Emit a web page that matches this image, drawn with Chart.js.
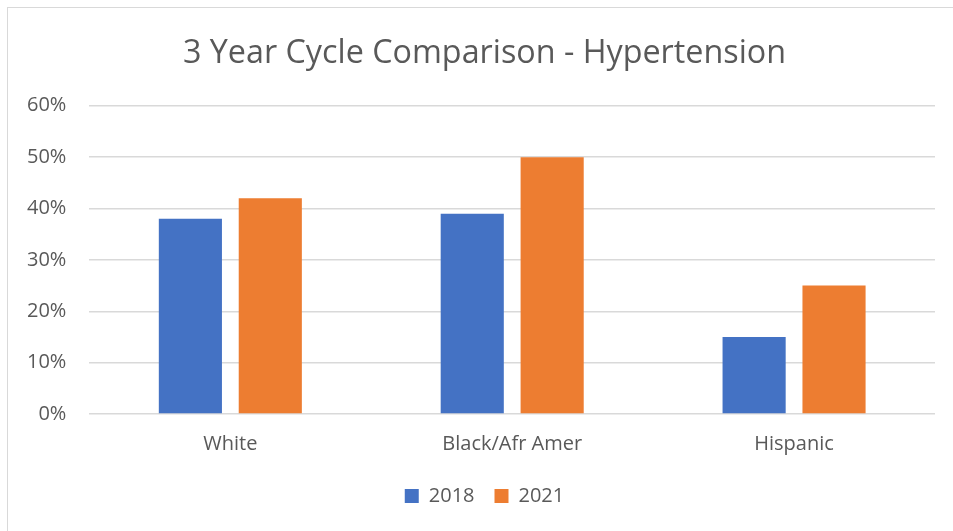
<!DOCTYPE html>
<html>
<head>
<meta charset="utf-8">
<script src="https://cdn.jsdelivr.net/npm/chart.js@4"></script>
<style>
  html, body { margin:0; padding:0; background:#fff; overflow:hidden; }
  #wrap { position:absolute; left:0; top:0; width:975px; height:531px; }
  #frame { position:absolute; left:7px; top:7px; width:1000px; height:1000px;
           border:1px solid #d9d9d9; pointer-events:none; }
</style>
</head>
<body>
<div id="wrap"><canvas id="myChart" width="975" height="531"></canvas></div>
<div id="frame"></div>
<script>
// chart data
var categories = ["White", "Black/Afr Amer", "Hispanic"];
var values2018 = [38, 39, 15];
var values2021 = [42, 50, 25];
var seriesNames = ["2018", "2021"];

var textColor = "#595959";
var fontFamily = "'Open Sans', 'Noto Sans', sans-serif";

var ctx = document.getElementById("myChart").getContext("2d");
var myChart = new Chart(ctx, {
  type: "bar",
  data: {
    labels: categories,
    datasets: [
      { label: seriesNames[0], data: values2018, backgroundColor: "#4472C4" },
      { label: seriesNames[1], data: values2021, backgroundColor: "#ED7D31" }
    ]
  },
  options: {
    responsive: false,
    animation: false,
    categoryPercentage: 0.567,
    barPercentage: 0.79,
    layout: { padding: { left: 4, right: 10, top: 16, bottom: 15 } },
    plugins: {
      title: {
        display: true,
        text: "3 Year Cycle Comparison - Hypertension",
        color: textColor,
        font: { family: fontFamily, size: 32.3, weight: "normal" },
        padding: { top: 18, bottom: 33 }
      },
      legend: {
        position: "bottom",
        labels: {
          color: textColor,
          font: { family: fontFamily, size: 20 },
          boxWidth: 14,
          boxHeight: 14,
          padding: 20
        }
      },
      tooltip: { enabled: false }
    },
    scales: {
      x: {
        grid: { display: false },
        border: { display: false },
        ticks: { color: textColor, font: { family: fontFamily, size: 20 }, padding: 10 }
      },
      y: {
        min: 0,
        max: 60,
        border: { display: false },
        grid: { color: "#d9d9d9", lineWidth: 1.5, drawTicks: false },
        ticks: {
          stepSize: 10,
          color: textColor,
          font: { family: fontFamily, size: 20 },
          padding: 23,
          callback: function (v) { return v + "%"; }
        }
      },
      // empty right margin inside the frame
      yRight: {
        position: "right",
        grid: { display: false },
        border: { display: false },
        ticks: { display: false },
        afterFit: function (scale) { scale.width = 30; }
      }
    }
  }
});
</script>
</body>
</html>
